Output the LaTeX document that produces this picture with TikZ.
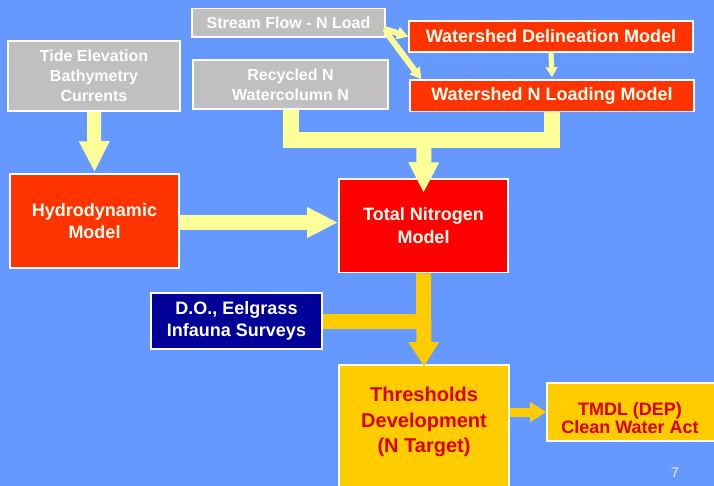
\documentclass[tikz,border=0pt]{standalone}
\usepackage{fontspec}
\setmainfont{Liberation Sans}
\usetikzlibrary{arrows.meta,calc}
\definecolor{bg}{HTML}{6699FF}
\definecolor{grayfill}{HTML}{C0C0C0}
\definecolor{redorange}{HTML}{FF3300}
\definecolor{purered}{HTML}{FF0000}
\definecolor{navy}{HTML}{000099}
\definecolor{gold}{HTML}{FFCC00}
\definecolor{paleyellow}{HTML}{FFFF99}
\definecolor{creamtext}{HTML}{FFFFF0}
\definecolor{redtext}{HTML}{D80000}
\begin{document}
\begin{tikzpicture}[x=1pt,y=-1pt,
  boxbase/.style={draw=white, line width=1.6pt, inner sep=0pt, align=center},
  graybox/.style={boxbase, fill=grayfill, text=white},
  redbox/.style={boxbase, fill=redorange, text=creamtext},
  tnbox/.style={boxbase, fill=purered, text=creamtext},
  navybox/.style={boxbase, fill=navy, text=white},
  goldbox/.style={boxbase, fill=gold},
  goldtext/.style={inner sep=0pt, align=center, text=redtext},
  fsixteen/.style={font=\bfseries\fontsize{16}{20}\selectfont},
  feighteen/.style={font=\bfseries\fontsize{18}{22.5}\selectfont},
  yarrow/.style={draw=paleyellow, line cap=butt, line width=#1},
  garrow/.style={draw=gold, line cap=butt, line width=#1},
  bigtip/.style={-{Triangle[width=31pt 0 0,length=30pt 0 0,line width=0pt 0 0]}},
  goldtip/.style={-{Triangle[width=31pt 0 0,length=24pt 0 0,line width=0pt 0 0]}},
  smalltip/.style={-{Triangle[width=13pt 0 0,length=11pt 0 0,line width=0pt 0 0]}},
  midtip/.style={-{Triangle[width=20pt 0 0,length=16pt 0 0,line width=0pt 0 0]}}
]
\fill[bg] (0,0) rectangle (714,486);
\useasboundingbox (0,0) rectangle (714,486);

% boxes
\node[graybox, fsixteen, minimum width=193pt, minimum height=28.5pt] (stream) at (288.5,22.75) {Stream Flow - N Load};
\node[redbox, feighteen, minimum width=284pt, minimum height=31pt] (delin) at (551,36.5) {Watershed Delineation Model};
\node[redbox, feighteen, minimum width=284pt, minimum height=31.5pt] (load) at (552,95.75) {Watershed N Loading Model};
\node[graybox, fsixteen, minimum width=195pt, minimum height=49pt] (rec) at (290.5,84.5) {Recycled N\\Watercolumn N};
\node[graybox, fsixteen, minimum width=172pt, minimum height=70pt] (tide) at (94,76) {Tide Elevation\\Bathymetry\\Currents};
\node[redbox, feighteen, minimum width=169pt, minimum height=94pt] (hydro) at (94.5,221) {Hydrodynamic\\Model};
\node[tnbox, feighteen, minimum width=169pt, minimum height=93.5pt] (tn) at (423.5,225.75) {Total Nitrogen\\Model};
\node[navybox, feighteen, minimum width=171pt, minimum height=56pt] (do) at (236.5,321) {D.O., Eelgrass\\Infauna Surveys};
\node[goldbox, minimum width=170pt, minimum height=140pt, anchor=north] (thr) at (424,364) {};
\node[goldtext, font=\bfseries\fontsize{20}{25.5}\selectfont] (thrlabel) at (424,422) {Thresholds\\Development\\(N Target)};
\node[goldbox, minimum width=180pt, minimum height=58pt] (tmdl) at (637,412) {};
\node[goldtext, font=\bfseries\fontsize{18}{18.5}\selectfont] (tmdllabel) at (630,418) {TMDL (DEP)\\Clean Water Act};
\node[inner sep=0pt, text=white!92!gray, font=\fontsize{14}{16}\selectfont] (pagenum) at (675,473) {7};

% pale yellow connectors
\coordinate (join) at (424,140.5);
\draw[yarrow=6pt, smalltip] ($(stream.east)+(-2,6)$) -- (delin.west);
\draw[yarrow=6pt, smalltip] ($(stream.east)+(0,9)$) -- ($(load.north west)+(12,0)$);
\draw[yarrow=5pt, -{Triangle[width=12pt 0 0,length=10pt 0 0,line width=0pt 0 0]}] (delin.south) -- ($(load.north)+(0,-2)$);
\draw[yarrow=16pt, line join=miter] (rec.south) |- (join) -| (load.south);
\draw[yarrow=15pt, bigtip] (join) -- ($(tn.north)+(0,14)$);
\draw[yarrow=14pt, bigtip] (tide.south) -- ($(hydro.north)+(0,-2)$);
\draw[yarrow=15pt, bigtip] ($(hydro.east)+(0,1.5)$) -- ($(hydro.east -| tn.west)+(-1,1.5)$);

% gold connectors
\draw[garrow=15pt] (do.east) -- (do.east -| tn.south);
\draw[garrow=15pt, goldtip] (tn.south) -- ($(thr.north)+(0,2)$);
\draw[garrow=9pt, midtip] (thr.east |- tmdl.west) -- (tmdl.west);
\end{tikzpicture}
\end{document}
